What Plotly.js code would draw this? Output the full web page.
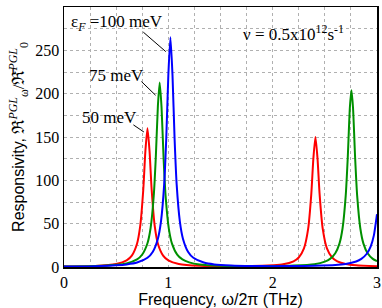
<!DOCTYPE html>
<html>
<head>
<meta charset="utf-8">
<script src="https://cdn.plot.ly/plotly-3.0.1.min.js"></script>
<style>html,body{margin:0;padding:0;background:#fff}#chart{width:382px;height:308px}</style>
</head>
<body>
<div id="chart"></div>
<script>
// Red curve: epsilon_F = 50 meV
const redX = [0, 0.3, 0.5, 0.6, 0.65, 0.7, 0.73, 0.76, 0.78, 0.8, 0.82, 0.84, 0.87, 0.9, 0.95, 1.0, 1.1, 1.3, 1.5, 1.7, 1.9, 2.0, 2.1, 2.2, 2.25, 2.3, 2.34, 2.37, 2.39, 2.41, 2.43, 2.45, 2.48, 2.52, 2.57, 2.62, 2.7, 2.8, 3.0];
const redY = [0.5, 1.1, 3.5, 7.7, 13.2, 26.9, 46.8, 89.4, 133.6, 160, 133.6, 89.4, 46.8, 26.9, 13.2, 7.7, 3.5, 1.3, 1.0, 1.0, 1.4, 2.0, 3.1, 6.6, 11, 21.5, 43.9, 83.8, 125, 150, 125, 83.8, 43.9, 21.5, 11, 6.6, 3.5, 2.0, 0.9];
// Green curve: epsilon_F = 75 meV
const greenX = [0, 0.3, 0.5, 0.6, 0.7, 0.75, 0.8, 0.83, 0.86, 0.88, 0.9, 0.917, 0.935, 0.955, 0.975, 1.005, 1.035, 1.085, 1.135, 1.2, 1.3, 1.5, 1.8, 2.0, 2.2, 2.4, 2.5, 2.55, 2.6, 2.64, 2.67, 2.7, 2.72, 2.74, 2.755, 2.77, 2.79, 2.81, 2.84, 2.87, 2.91, 2.96, 3.0];
const greenY = [0.5, 1.1, 2.5, 4.2, 8.8, 14.4, 27.4, 45, 81.9, 127, 186, 213, 184, 124, 80, 44, 27, 14.3, 8.7, 5.3, 2.9, 1.5, 1.0, 1.1, 1.6, 3.2, 6.2, 9.4, 15.9, 27, 44.7, 82, 127, 184, 204, 184, 127, 82, 44.7, 27, 15.9, 9.4, 6.7];
// Blue curve: epsilon_F = 100 meV
const blueX = [0, 0.3, 0.5, 0.6, 0.7, 0.8, 0.85, 0.9, 0.93, 0.96, 0.98, 1.0, 1.02, 1.04, 1.06, 1.08, 1.11, 1.14, 1.19, 1.24, 1.34, 1.44, 1.6, 1.8, 2.0, 2.2, 2.4, 2.6, 2.7, 2.8, 2.85, 2.9, 2.94, 2.97, 3.0];
const blueY = [0.5, 1.0, 2.0, 3.0, 5.1, 10.6, 17.3, 32.7, 53, 95, 148, 221, 265, 221, 148, 95, 53, 32.7, 17.3, 10.6, 5.1, 3.0, 1.8, 1.2, 1.0, 1.1, 1.4, 2.2, 3.5, 6.4, 9.4, 15, 23.9, 36.5, 61];

const xTicks = [0, 1, 2, 3];
const yTicks = [0, 50, 100, 150, 200, 250, 300];

const serif = "Liberation Serif, Times New Roman, serif";
const sans = "Liberation Sans, Arial, sans-serif";

function tr(x, y, c) {
  return {x: x, y: y, type: 'scatter', mode: 'lines',
          line: {color: c, width: 2, shape: 'spline', smoothing: 0.6},
          hoverinfo: 'skip', showlegend: false};
}

const data = [tr(redX, redY, '#ff0000'), tr(greenX, greenY, '#009000'), tr(blueX, blueY, '#0000ff')];

const gridCol = '#b0b0b0';
const layout = {
  width: 382, height: 308,
  margin: {l: 64, r: 5, t: 7, b: 41},
  paper_bgcolor: '#fff', plot_bgcolor: '#fff',
  showlegend: false,
  xaxis: {
    range: [0, 3], tickvals: xTicks, ticktext: xTicks.map(String),
    showline: true, mirror: true, linecolor: '#000', linewidth: 1.5,
    ticks: '', zeroline: false,
    showgrid: true, gridcolor: gridCol, griddash: 'dot', gridwidth: 1,
    minor: {dtick: 0.25, showgrid: true, gridcolor: gridCol, griddash: 'dot', gridwidth: 1},
    tickfont: {family: serif, size: 16, color: '#000'},
    title: {text: 'Frequency, ω/2π (THz)', font: {family: sans, size: 16, color: '#000'}, standoff: 1},
    automargin: false
  },
  yaxis: {
    range: [0, 300], tickvals: yTicks, ticktext: yTicks.map(String),
    showline: true, mirror: true, linecolor: '#000', linewidth: 1.5,
    ticks: '', zeroline: false,
    showgrid: true, gridcolor: gridCol, griddash: 'dot', gridwidth: 1,
    minor: {dtick: 25, showgrid: true, gridcolor: gridCol, griddash: 'dot', gridwidth: 1},
    tickfont: {family: serif, size: 16, color: '#000'},
    title: {text: 'Responsivity, <span style="font-family:Liberation Serif;font-size:17px">ℜ<sup><i>PGL</i></sup><sub>ω</sub>/ℜ̄<sup><i>PGL</i></sup><sub>0</sub></span>',
            font: {family: sans, size: 16, color: '#000'}, standoff: 6},
    automargin: false
  },
  annotations: [
    {x: 0.76, y: 271, ax: 0.99, ay: 247, axref: 'x', ayref: 'y', xref: 'x', yref: 'y',
     showarrow: true, arrowhead: 0, arrowwidth: 1, arrowcolor: '#000', text: ''},
    {x: 0.742, y: 214, ax: 0.892, ay: 196.5, axref: 'x', ayref: 'y', xref: 'x', yref: 'y',
     showarrow: true, arrowhead: 0, arrowwidth: 1, arrowcolor: '#000', text: ''},
    {x: 0.665, y: 164, ax: 0.78, ay: 154.6, axref: 'x', ayref: 'y', xref: 'x', yref: 'y',
     showarrow: true, arrowhead: 0, arrowwidth: 1, arrowcolor: '#000', text: ''},
    {x: 0.05, y: 281, xref: 'x', yref: 'y', xanchor: 'left', yanchor: 'middle', showarrow: false,
     text: 'ε<sub><i>F</i></sub> =100 meV', font: {family: serif, size: 17, color: '#000'}},
    {x: 0.22, y: 221, xref: 'x', yref: 'y', xanchor: 'left', yanchor: 'middle', showarrow: false,
     text: '75 meV', font: {family: serif, size: 17, color: '#000'}},
    {x: 0.15, y: 172, xref: 'x', yref: 'y', xanchor: 'left', yanchor: 'middle', showarrow: false,
     text: '50 meV', font: {family: serif, size: 17, color: '#000'}},
    {x: 2.2, y: 270, xref: 'x', yref: 'y', xanchor: 'center', yanchor: 'middle', showarrow: false,
     text: 'ν = 0.5x10<sup>12</sup>s<sup>-1</sup>', font: {family: serif, size: 17, color: '#000'}}
  ]
};

Plotly.newPlot('chart', data, layout, {staticPlot: true, displayModeBar: false});
</script>
</body>
</html>
